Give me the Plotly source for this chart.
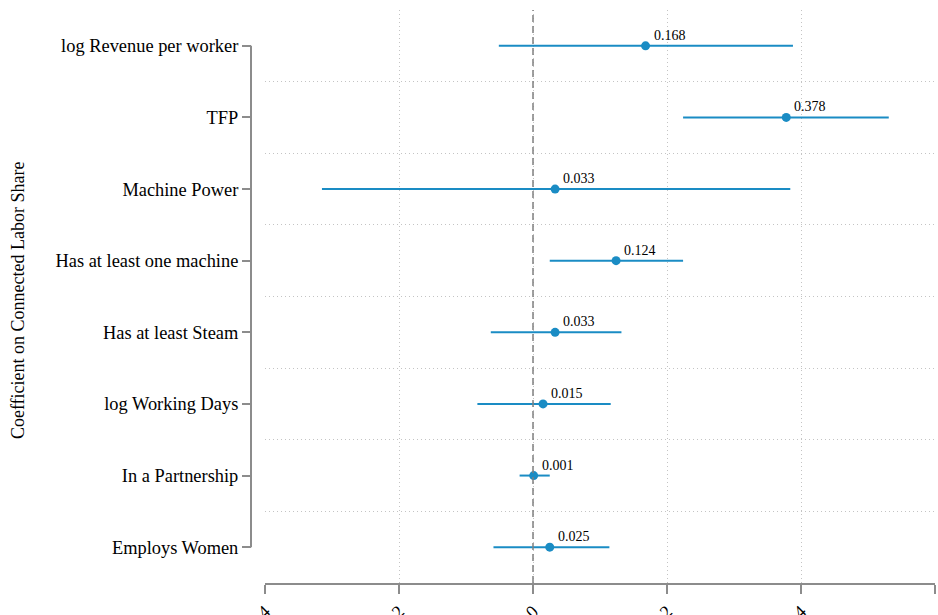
import plotly.graph_objects as go

categories = ["log Revenue per worker", "TFP", "Machine Power", "Has at least one machine",
              "Has at least Steam", "log Working Days", "In a Partnership", "Employs Women"]
coef = [0.168, 0.378, 0.033, 0.124, 0.033, 0.015, 0.001, 0.025]
ci_low = [-0.051, 0.224, -0.315, 0.025, -0.063, -0.083, -0.020, -0.059]
ci_high = [0.388, 0.531, 0.384, 0.224, 0.132, 0.116, 0.025, 0.114]
x_ticks = [-0.4, -0.2, 0, 0.2, 0.4, 0.6]
x_ticktext = ["-.4", "-.2", "0", ".2", ".4", ".6"]
labels = ["%.3f" % v for v in coef]

W, H = 938, 615
BLUE = "#1a8cc4"
GRAY = "#8c8c8c"
GRID = "#c4c4c4"
FONT = "Liberation Serif"

ypos = list(range(len(categories)))

fig = go.Figure()
fig.add_trace(go.Scatter(
    x=coef, y=ypos, mode="markers",
    marker=dict(color=BLUE, size=9),
    error_x=dict(type="data", symmetric=False,
                 array=[h - c for h, c in zip(ci_high, coef)],
                 arrayminus=[c - l for c, l in zip(coef, ci_low)],
                 color=BLUE, thickness=2, width=0),
    cliponaxis=False, showlegend=False,
))

annotations = [
    dict(text=t, x=xv, y=yv, xref="x", yref="y", showarrow=False,
         xanchor="left", yanchor="bottom", xshift=6, yshift=1,
         font=dict(family=FONT, size=14, color="black"))
    for t, xv, yv in zip(labels, coef, ypos)
]
annotations.append(
    dict(text="Coefficient on Connected Labor Share", xref="paper", yref="y",
         x=18 / W, y=3.55, textangle=-90, showarrow=False,
         xanchor="center", yanchor="middle",
         font=dict(family=FONT, size=18, color="black"))
)

fig.update_layout(
    width=W, height=H,
    margin=dict(l=0, r=0, t=10, b=32, autoexpand=False),
    plot_bgcolor="white", paper_bgcolor="white",
    font=dict(family=FONT, size=18, color="black"),
    xaxis=dict(
        domain=[265 / W, 935 / W], range=[-0.4, 0.6], automargin=False,
        tickmode="array", tickvals=x_ticks, ticktext=x_ticktext,
        tickangle=-45, ticks="outside", ticklen=9, tickwidth=2, tickcolor=GRAY,
        showline=True, linecolor=GRAY, linewidth=2,
        showgrid=True, gridcolor=GRID, griddash="1px,3px", gridwidth=1,
        zeroline=False, tickfont=dict(family=FONT, size=18),
    ),
    yaxis=dict(
        anchor="free", position=251 / W, automargin=False,
        range=[7.5, -0.5], tickmode="array", tickvals=ypos, ticktext=categories,
        ticks="outside", ticklen=9, tickwidth=2, tickcolor=GRAY,
        showline=False, showgrid=False, zeroline=False,
        minor=dict(tickmode="array", tickvals=[i + 0.5 for i in range(len(categories) - 1)],
                   showgrid=True, gridcolor=GRID, griddash="1px,3px", gridwidth=1, ticks=""),
        tickfont=dict(family=FONT, size=18.4),
    ),
    shapes=[
        dict(type="line", xref="x", yref="paper", x0=0, x1=0, y0=0, y1=1,
             line=dict(color="#808080", width=1.5, dash="7px,4px")),
        dict(type="line", xref="paper", yref="y", x0=251 / W, x1=251 / W, y0=0, y1=7,
             line=dict(color=GRAY, width=2)),
    ],
    annotations=annotations,
)

fig.write_html("out.html", config={"displayModeBar": False},
               post_script="document.body.style.margin='0';document.body.style.overflow='hidden';")
